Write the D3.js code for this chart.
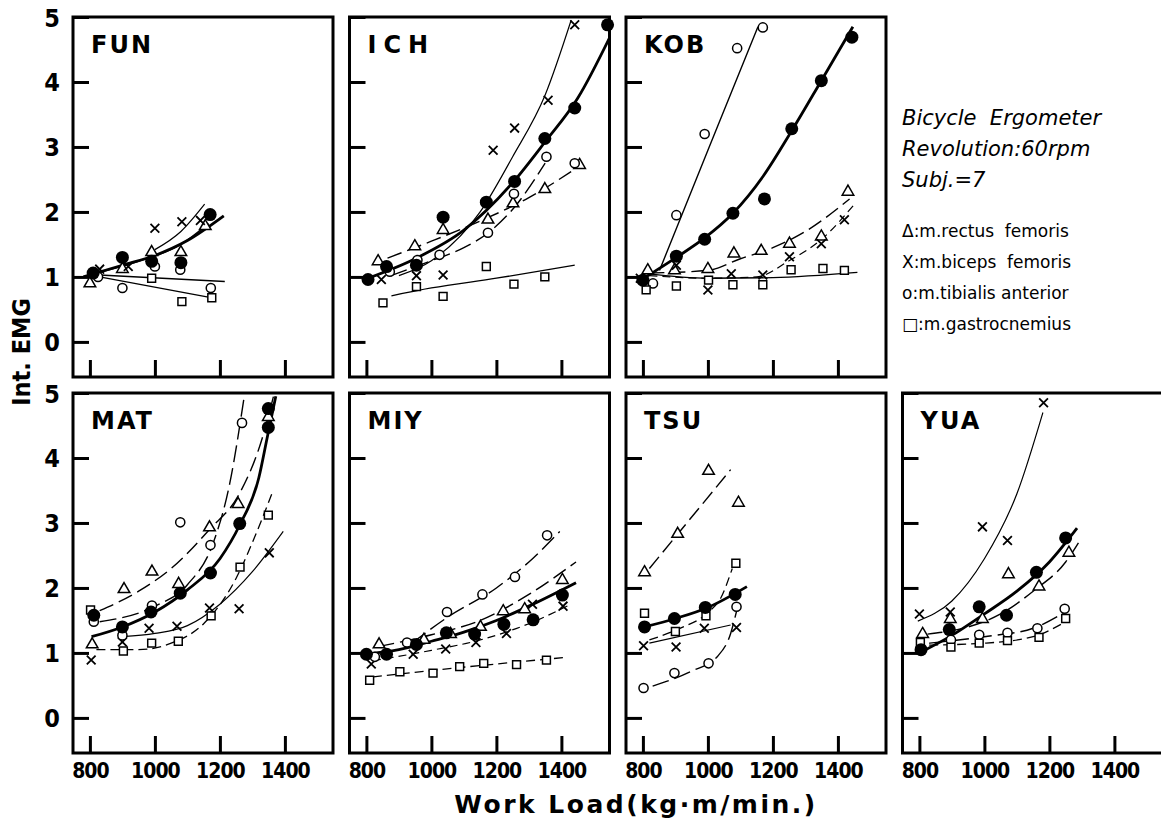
<!DOCTYPE html>
<html>
<head>
<meta charset="utf-8">
<script src="https://cdn.jsdelivr.net/npm/d3@7"></script>
<style>
  body { margin: 0; background: #fff; }
</style>
</head>
<body>
<svg id="chart" width="1161" height="825"></svg>
<script>
// tick values shared by every panel
var loadTicks = [800, 1000, 1200, 1400]
var emgTicks = [0, 1, 2, 3, 4, 5]

var subjects = ["FUN", "ICH", "KOB", "MAT", "MIY", "TSU", "YUA"]

var muscleNames = {
    rectus: "\u0394:m.rectus  femoris",
    biceps: "X:m.biceps  femoris",
    tibialis: "o:m.tibialis anterior",
    gastro: "\u25A1:m.gastrocnemius"
}

// measured points: [muscle, work load, int. EMG]  ("mean" = filled circles)
var FUN_pts = [
    ["mean", 810, 1.06], ["mean", 900, 1.3], ["mean", 990, 1.24], ["mean", 1080, 1.22], ["mean", 1170, 1.96],
    ["rectus", 800, 0.9], ["rectus", 900, 1.12], ["rectus", 990, 1.38], ["rectus", 1080, 1.38], ["rectus", 1155, 1.78],
    ["biceps", 830, 1.12], ["biceps", 918, 1.16], ["biceps", 1000, 1.75], ["biceps", 1083, 1.85], ["biceps", 1140, 1.87],
    ["tibialis", 825, 1.0], ["tibialis", 900, 0.83], ["tibialis", 1000, 1.16], ["tibialis", 1078, 1.11], ["tibialis", 1172, 0.83],
    ["gastro", 990, 0.98], ["gastro", 1083, 0.62], ["gastro", 1175, 0.68]
]
var ICH_pts = [
    ["mean", 805, 0.96], ["mean", 862, 1.16], ["mean", 954, 1.18], ["mean", 1036, 1.92], ["mean", 1169, 2.15],
    ["mean", 1256, 2.47], ["mean", 1349, 3.13], ["mean", 1441, 3.6], ["mean", 1542, 4.88],
    ["rectus", 836, 1.24], ["rectus", 949, 1.47], ["rectus", 1036, 1.72], ["rectus", 1174, 1.88], ["rectus", 1251, 2.13],
    ["rectus", 1349, 2.35], ["rectus", 1456, 2.72],
    ["biceps", 846, 0.96], ["biceps", 954, 1.02], ["biceps", 1036, 1.03], ["biceps", 1190, 2.95], ["biceps", 1256, 3.29],
    ["biceps", 1359, 3.72], ["biceps", 1441, 4.88],
    ["tibialis", 872, 1.08], ["tibialis", 957, 1.26], ["tibialis", 1025, 1.34], ["tibialis", 1174, 1.68], ["tibialis", 1254, 2.28],
    ["tibialis", 1354, 2.85], ["tibialis", 1441, 2.75],
    ["gastro", 851, 0.6], ["gastro", 954, 0.85], ["gastro", 1036, 0.7], ["gastro", 1169, 1.16], ["gastro", 1254, 0.89],
    ["gastro", 1349, 1.0]
]
var KOB_pts = [
    ["mean", 800, 0.95], ["mean", 903, 1.32], ["mean", 990, 1.58], ["mean", 1077, 1.98], ["mean", 1174, 2.2],
    ["mean", 1258, 3.28], ["mean", 1349, 4.02], ["mean", 1443, 4.69],
    ["rectus", 815, 1.1], ["rectus", 897, 1.1], ["rectus", 1000, 1.12], ["rectus", 1080, 1.36], ["rectus", 1164, 1.4],
    ["rectus", 1251, 1.51], ["rectus", 1349, 1.62], ["rectus", 1431, 2.31],
    ["biceps", 792, 0.98], ["biceps", 903, 1.18], ["biceps", 1000, 0.8], ["biceps", 1072, 1.05], ["biceps", 1169, 1.03],
    ["biceps", 1251, 1.31], ["biceps", 1349, 1.51], ["biceps", 1420, 1.88],
    ["tibialis", 831, 0.9], ["tibialis", 903, 1.95], ["tibialis", 990, 3.2], ["tibialis", 1090, 4.52], ["tibialis", 1169, 4.84],
    ["gastro", 810, 0.8], ["gastro", 903, 0.86], ["gastro", 1002, 0.95], ["gastro", 1077, 0.88], ["gastro", 1169, 0.88],
    ["gastro", 1256, 1.11], ["gastro", 1354, 1.13], ["gastro", 1420, 1.1]
]
var MAT_pts = [
    ["mean", 812, 1.58], ["mean", 900, 1.4], ["mean", 988, 1.63], ["mean", 1078, 1.92], ["mean", 1171, 2.23],
    ["mean", 1261, 2.99], ["mean", 1349, 4.47], ["mean", 1349, 4.76],
    ["rectus", 807, 1.13], ["rectus", 905, 1.98], ["rectus", 991, 2.25], ["rectus", 1073, 2.06], ["rectus", 1168, 2.93],
    ["rectus", 1256, 3.29], ["rectus", 1349, 4.63],
    ["biceps", 804, 0.89], ["biceps", 900, 1.17], ["biceps", 982, 1.38], ["biceps", 1068, 1.41], ["biceps", 1168, 1.69],
    ["biceps", 1259, 1.68], ["biceps", 1352, 2.54],
    ["tibialis", 812, 1.48], ["tibialis", 900, 1.27], ["tibialis", 991, 1.73], ["tibialis", 1078, 3.01], ["tibialis", 1171, 2.66],
    ["tibialis", 1268, 4.54],
    ["gastro", 802, 1.66], ["gastro", 903, 1.03], ["gastro", 990, 1.15], ["gastro", 1072, 1.18], ["gastro", 1173, 1.57],
    ["gastro", 1262, 2.32], ["gastro", 1349, 3.12]
]
var MIY_pts = [
    ["mean", 800, 0.98], ["mean", 862, 0.98], ["mean", 954, 1.13], ["mean", 1046, 1.31], ["mean", 1133, 1.29],
    ["mean", 1223, 1.44], ["mean", 1313, 1.51], ["mean", 1403, 1.89],
    ["rectus", 839, 1.13], ["rectus", 977, 1.2], ["rectus", 1059, 1.29], ["rectus", 1151, 1.4], ["rectus", 1221, 1.64],
    ["rectus", 1287, 1.67], ["rectus", 1403, 2.12],
    ["biceps", 815, 0.83], ["biceps", 944, 0.98], ["biceps", 1044, 1.06], ["biceps", 1137, 1.16], ["biceps", 1231, 1.3],
    ["biceps", 1311, 1.75], ["biceps", 1405, 1.72],
    ["tibialis", 826, 0.94], ["tibialis", 925, 1.16], ["tibialis", 1048, 1.63], ["tibialis", 1157, 1.9], ["tibialis", 1257, 2.17],
    ["tibialis", 1356, 2.81],
    ["gastro", 810, 0.58], ["gastro", 903, 0.71], ["gastro", 1005, 0.69], ["gastro", 1087, 0.79], ["gastro", 1161, 0.84],
    ["gastro", 1262, 0.82], ["gastro", 1354, 0.89]
]
var TSU_pts = [
    ["mean", 805, 1.4], ["mean", 897, 1.53], ["mean", 992, 1.7], ["mean", 1084, 1.9],
    ["rectus", 805, 2.24], ["rectus", 907, 2.83], ["rectus", 1002, 3.8], ["rectus", 1094, 3.31],
    ["biceps", 802, 1.11], ["biceps", 902, 1.09], ["biceps", 989, 1.38], ["biceps", 1088, 1.39],
    ["tibialis", 802, 0.46], ["tibialis", 897, 0.69], ["tibialis", 1002, 0.84], ["tibialis", 1088, 1.71],
    ["gastro", 805, 1.61], ["gastro", 900, 1.33], ["gastro", 994, 1.57], ["gastro", 1086, 2.38]
]
var YUA_pts = [
    ["mean", 805, 1.05], ["mean", 892, 1.36], ["mean", 984, 1.71], ["mean", 1068, 1.58], ["mean", 1160, 2.24], ["mean", 1250, 2.77],
    ["rectus", 810, 1.29], ["rectus", 895, 1.52], ["rectus", 994, 1.52], ["rectus", 1074, 2.21], ["rectus", 1168, 2.02],
    ["rectus", 1260, 2.54],
    ["biceps", 800, 1.6], ["biceps", 895, 1.63], ["biceps", 994, 2.94], ["biceps", 1071, 2.73], ["biceps", 1182, 4.85],
    ["tibialis", 897, 1.2], ["tibialis", 984, 1.28], ["tibialis", 1071, 1.31], ["tibialis", 1163, 1.38], ["tibialis", 1247, 1.68],
    ["gastro", 803, 1.16], ["gastro", 897, 1.09], ["gastro", 984, 1.15], ["gastro", 1071, 1.19], ["gastro", 1168, 1.24],
    ["gastro", 1250, 1.53]
]

// hand-fitted curves: [muscle, work load, int. EMG]
var FUN_fit = [
    ["mean", 780, 1.0], ["mean", 900, 1.18], ["mean", 1000, 1.33], ["mean", 1100, 1.56], ["mean", 1212, 1.94],
    ["rectus", 820, 1.06], ["rectus", 950, 1.24], ["rectus", 1080, 1.5], ["rectus", 1165, 1.82],
    ["biceps", 1000, 1.42], ["biceps", 1080, 1.7], ["biceps", 1153, 2.12],
    ["tibialis", 830, 1.03], ["tibialis", 1215, 0.93],
    ["gastro", 830, 1.0], ["gastro", 1185, 0.67]
]
var ICH_fit = [
    ["mean", 800, 0.97], ["mean", 950, 1.28], ["mean", 1100, 1.72], ["mean", 1250, 2.45], ["mean", 1350, 3.08],
    ["mean", 1450, 3.75], ["mean", 1550, 4.7],
    ["rectus", 865, 1.29], ["rectus", 1000, 1.55], ["rectus", 1150, 1.86], ["rectus", 1300, 2.22], ["rectus", 1430, 2.62],
    ["biceps", 900, 1.02], ["biceps", 1000, 1.25], ["biceps", 1150, 2.0], ["biceps", 1250, 2.85], ["biceps", 1350, 3.8],
    ["biceps", 1430, 4.95],
    ["tibialis", 875, 1.02], ["tibialis", 1000, 1.25], ["tibialis", 1100, 1.45], ["tibialis", 1175, 1.68],
    ["tibialis", 1260, 2.1], ["tibialis", 1350, 2.75],
    ["gastro", 877, 0.71], ["gastro", 1000, 0.83], ["gastro", 1200, 0.98], ["gastro", 1441, 1.18]
]
var KOB_fit = [
    ["mean", 800, 0.97], ["mean", 903, 1.3], ["mean", 990, 1.6], ["mean", 1077, 1.98], ["mean", 1170, 2.55],
    ["mean", 1258, 3.25], ["mean", 1349, 4.02], ["mean", 1446, 4.85],
    ["rectus", 820, 1.06], ["rectus", 1000, 1.1], ["rectus", 1100, 1.28], ["rectus", 1200, 1.45], ["rectus", 1300, 1.7],
    ["rectus", 1436, 2.2],
    ["biceps", 820, 1.02], ["biceps", 1000, 0.98], ["biceps", 1150, 1.0], ["biceps", 1250, 1.25], ["biceps", 1350, 1.58],
    ["biceps", 1456, 2.15],
    ["tibialis", 851, 1.1], ["tibialis", 1000, 2.95], ["tibialis", 1154, 4.85],
    ["gastro", 810, 1.05], ["gastro", 1000, 0.98], ["gastro", 1200, 0.99], ["gastro", 1460, 1.07]
]
var MAT_fit = [
    ["mean", 805, 1.25], ["mean", 900, 1.4], ["mean", 1000, 1.63], ["mean", 1100, 1.97], ["mean", 1200, 2.45],
    ["mean", 1262, 2.98], ["mean", 1320, 3.7], ["mean", 1345, 4.3], ["mean", 1372, 4.95],
    ["rectus", 830, 1.65], ["rectus", 950, 1.95], ["rectus", 1050, 2.3], ["rectus", 1168, 2.9], ["rectus", 1260, 3.45],
    ["rectus", 1330, 4.3], ["rectus", 1365, 4.95],
    ["biceps", 900, 1.25], ["biceps", 1000, 1.3], ["biceps", 1100, 1.42], ["biceps", 1200, 1.75], ["biceps", 1300, 2.25],
    ["biceps", 1395, 2.87],
    ["tibialis", 830, 1.48], ["tibialis", 1000, 1.72], ["tibialis", 1100, 2.05], ["tibialis", 1180, 2.7],
    ["tibialis", 1230, 3.6], ["tibialis", 1275, 4.95],
    ["gastro", 820, 1.05], ["gastro", 950, 1.05], ["gastro", 1050, 1.15], ["gastro", 1150, 1.45], ["gastro", 1250, 2.15],
    ["gastro", 1300, 2.7], ["gastro", 1360, 3.45]
]
var MIY_fit = [
    ["mean", 790, 0.98], ["mean", 900, 1.05], ["mean", 1000, 1.18], ["mean", 1100, 1.32], ["mean", 1200, 1.5],
    ["mean", 1300, 1.72], ["mean", 1445, 2.08],
    ["rectus", 840, 1.1], ["rectus", 1000, 1.28], ["rectus", 1150, 1.5], ["rectus", 1300, 1.9], ["rectus", 1445, 2.4],
    ["biceps", 820, 0.88], ["biceps", 1000, 1.04], ["biceps", 1150, 1.2], ["biceps", 1300, 1.45], ["biceps", 1430, 1.75],
    ["tibialis", 940, 1.15], ["tibialis", 1050, 1.55], ["tibialis", 1200, 2.0], ["tibialis", 1300, 2.4], ["tibialis", 1395, 2.87],
    ["gastro", 820, 0.63], ["gastro", 1000, 0.73], ["gastro", 1200, 0.83], ["gastro", 1410, 0.93]
]
var TSU_fit = [
    ["mean", 805, 1.4], ["mean", 900, 1.53], ["mean", 1000, 1.7], ["mean", 1120, 2.02],
    ["rectus", 820, 2.3], ["rectus", 1070, 3.82],
    ["biceps", 820, 1.15], ["biceps", 1070, 1.43],
    ["tibialis", 830, 0.49], ["tibialis", 950, 0.72], ["tibialis", 1030, 0.95], ["tibialis", 1070, 1.3], ["tibialis", 1090, 1.68],
    ["gastro", 820, 1.2], ["gastro", 910, 1.37], ["gastro", 1000, 1.62], ["gastro", 1040, 1.85], ["gastro", 1075, 2.3]
]
var YUA_fit = [
    ["mean", 800, 1.0], ["mean", 900, 1.27], ["mean", 1000, 1.6], ["mean", 1100, 1.95], ["mean", 1200, 2.4], ["mean", 1285, 2.92],
    ["rectus", 825, 1.29], ["rectus", 950, 1.4], ["rectus", 1050, 1.6], ["rectus", 1150, 1.95], ["rectus", 1250, 2.4],
    ["rectus", 1295, 2.74],
    ["biceps", 795, 1.49], ["biceps", 900, 1.8], ["biceps", 1000, 2.45], ["biceps", 1100, 3.45], ["biceps", 1180, 4.7],
    ["tibialis", 830, 1.15], ["tibialis", 1000, 1.25], ["tibialis", 1150, 1.38], ["tibialis", 1245, 1.62],
    ["gastro", 830, 1.12], ["gastro", 1000, 1.15], ["gastro", 1150, 1.25], ["gastro", 1250, 1.48]
]

var pointsOf = {FUN: FUN_pts, ICH: ICH_pts, KOB: KOB_pts, MAT: MAT_pts, MIY: MIY_pts, TSU: TSU_pts, YUA: YUA_pts}
var fitsOf = {FUN: FUN_fit, ICH: ICH_fit, KOB: KOB_fit, MAT: MAT_fit, MIY: MIY_fit, TSU: TSU_fit, YUA: YUA_fit}

// ---- layout / style ----
var panelW = 260, panelH = 360
var rowTop = [17, 393]
var colLeft = c => 73 + c * 276.5
var numFont = "'DejaVu Sans Condensed', 'DejaVu Sans', sans-serif"

// default line look per muscle, with the few panels where the figure differs
var lineStyle = {
    mean: {w: 2.8, dash: null},
    rectus: {w: 1.4, dash: "15,6"},
    biceps: {w: 1.2, dash: null},
    tibialis: {w: 1.4, dash: "17,6"},
    gastro: {w: 1.3, dash: "9,5"}
}
var solidFits = ["FUN.tibialis", "FUN.gastro", "ICH.gastro", "KOB.tibialis", "KOB.gastro", "FUN.rectus"]
var dashedFits = ["KOB.biceps", "MIY.biceps"]

var svg = d3.select("#chart")

var x = d3.scaleLinear().domain([748, 1548]).range([0, panelW])
var y = d3.scaleLinear().domain([-0.54, 5]).range([panelH, 0])

var line = d3.line()
    .x(d => x(d[1]))
    .y(d => y(d[2]))
    .curve(d3.curveMonotoneX)

var symbolFor = {
    rectus: d3.symbol().type(d3.symbolTriangle).size(58),
    biceps: d3.symbol().type(d3.symbolTimes).size(52),
    tibialis: d3.symbol().type(d3.symbolCircle).size(66),
    gastro: d3.symbol().type(d3.symbolSquare).size(62)
}

var drawPanel = (name, i) => {
    var row = i < 3 ? 0 : 1
    var col = i < 3 ? i : i - 3
    var g = svg.append("g")
        .attr("transform", `translate(${colLeft(col)},${rowTop[row]})`)

    g.append("clipPath").attr("id", `clip_${name}`)
        .append("rect").attr("width", panelW).attr("height", panelH)

    // axes: inward ticks, numbers only on outer panels
    var xAxis = g.append("g")
        .attr("transform", `translate(0,${panelH})`)
        .call(d3.axisBottom(x).tickValues(loadTicks).tickSize(-17).tickPadding(10)
            .tickFormat(row == 1 ? d3.format("d") : ""))
    var yAxis = g.append("g")
        .call(d3.axisLeft(y).tickValues(emgTicks).tickSize(-16).tickPadding(13)
            .tickFormat(col == 0 ? d3.format("d") : ""))

    ;[xAxis, yAxis].forEach(a => {
        a.select(".domain").remove()
        a.selectAll(".tick line").attr("stroke", "#000").attr("stroke-width", 3)
    })
    xAxis.selectAll("text")
        .attr("font-family", "'Liberation Sans Narrow', " + numFont)
        .attr("font-size", 21).attr("font-weight", "bold").attr("fill", "#000")
        .attr("letter-spacing", -1)
    yAxis.selectAll("text")
        .attr("font-family", numFont)
        .attr("font-size", 25).attr("font-weight", "bold").attr("fill", "#000")
        .attr("dy", "0.36em")

    // fitted curves
    var fits = d3.group(fitsOf[name], d => d[0])
    var curves = g.append("g").attr("clip-path", `url(#clip_${name})`)
    fits.forEach((rows, muscle) => {
        var st = lineStyle[muscle]
        var key = `${name}.${muscle}`
        var dash = st.dash
        if (solidFits.includes(key)) dash = null
        if (dashedFits.includes(key)) dash = "8,5"
        curves.append("path")
            .attr("d", line(rows))
            .attr("fill", "none")
            .attr("stroke", "#000")
            .attr("stroke-width", st.w)
            .attr("stroke-dasharray", dash)
    })

    // measured points, open symbols first, filled circles on top
    var pts = pointsOf[name]
    g.append("g").selectAll("path")
        .data(pts.filter(d => d[0] != "mean"))
        .join("path")
        .attr("transform", d => `translate(${x(d[1])},${y(d[2])})`)
        .attr("d", d => symbolFor[d[0]]())
        .attr("fill", d => d[0] == "biceps" ? "none" : "#fff")
        .attr("stroke", "#000")
        .attr("stroke-width", d => d[0] == "biceps" ? 1.8 : 1.5)

    g.append("g").selectAll("circle")
        .data(pts.filter(d => d[0] == "mean"))
        .join("circle")
        .attr("cx", d => x(d[1]))
        .attr("cy", d => y(d[2]))
        .attr("r", 6.5)
        .attr("fill", "#000")

    // frame and subject label
    g.append("rect")
        .attr("width", panelW).attr("height", panelH)
        .attr("fill", "none").attr("stroke", "#000").attr("stroke-width", 3)

    g.append("text")
        .attr("x", 18).attr("y", 36)
        .attr("font-family", "'DejaVu Sans', sans-serif")
        .attr("font-size", 24)
        .attr("font-weight", 600)
        .attr("letter-spacing", name == "ICH" ? 7 : 2)
        .text(name)
}

subjects.forEach(drawPanel)

// axis titles
svg.append("text")
    .attr("transform", "translate(30,352) rotate(-90)")
    .attr("text-anchor", "middle")
    .attr("font-family", numFont)
    .attr("font-size", 25)
    .attr("font-weight", "bold")
    .text("Int. EMG")

svg.append("text")
    .attr("x", 636).attr("y", 813)
    .attr("text-anchor", "middle")
    .attr("font-family", "'DejaVu Sans', sans-serif")
    .attr("font-size", 25)
    .attr("font-weight", "bold")
    .attr("letter-spacing", 2.5)
    .text("Work Load(kg\u00B7m/min.)")

// notes and symbol legend to the right of KOB
var note = svg.append("g").attr("transform", "translate(902,0)")
var noteLines = ["Bicycle  Ergometer", "Revolution:60rpm", "Subj.=7"]
note.selectAll(".note")
    .data(noteLines)
    .join("text")
    .attr("class", "note")
    .attr("y", (d, i) => 125 + i * 31)
    .attr("font-family", "'DejaVu Sans', sans-serif")
    .attr("font-style", "italic")
    .attr("font-size", 21)
    .style("white-space", "pre")
    .text(d => d)

note.selectAll(".muscle")
    .data(Object.keys(muscleNames))
    .join("text")
    .attr("class", "muscle")
    .attr("y", (d, i) => 237 + i * 31)
    .attr("font-family", "'DejaVu Sans', sans-serif")
    .attr("font-size", 17)
    .style("white-space", "pre")
    .text(d => muscleNames[d])
</script>
</body>
</html>
